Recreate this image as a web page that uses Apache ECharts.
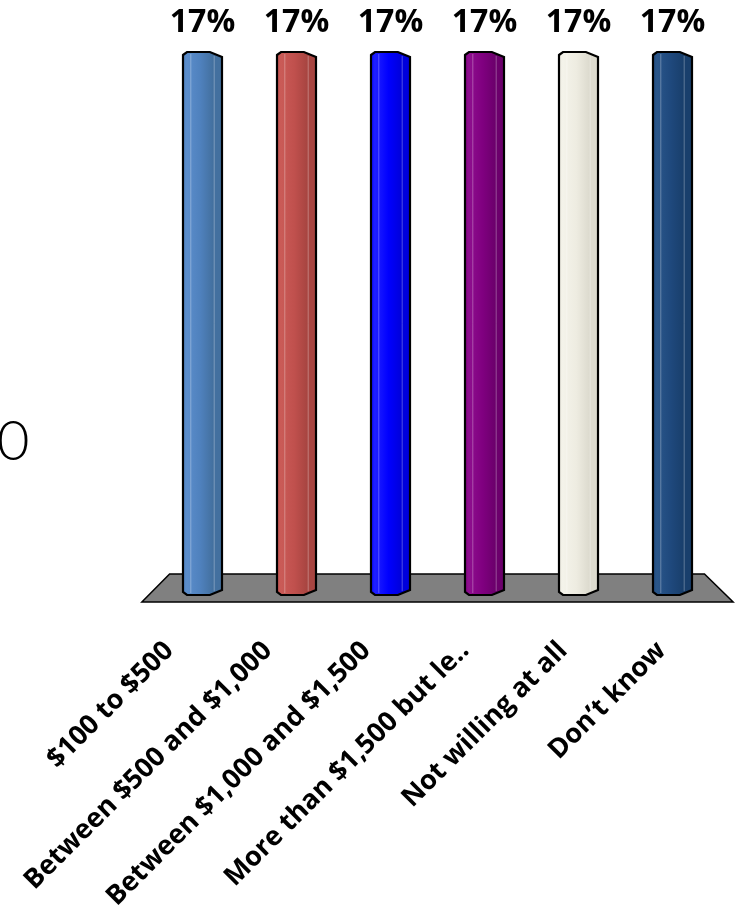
<!DOCTYPE html>
<html>
<head>
<meta charset="utf-8">
<script src="https://cdn.jsdelivr.net/npm/echarts@6/dist/echarts.min.js"></script>
<style>
  html, body { margin: 0; padding: 0; background: #fff; }
  #chart { width: 741px; height: 913px; }
</style>
</head>
<body>
<div id="chart"></div>
<script>
// Willingness-to-pay answer categories and their shares (%)
const categories = [
  '$100 to $500',
  'Between $500 and $1,000',
  'Between $1,000 and $1,500',
  'More than $1,500 but le..',
  'Not willing at all',
  'Don\u2019t know'
];
const shares = [17, 17, 17, 17, 17, 17];
const valueAxisLabel = '0';

// Per-bar face shading: [left highlight, base colour, right shade]
const barShades = [
  ['#5b8dcb', '#4f81bd', '#43709f'],
  ['#ca5b57', '#c0504d', '#a84541'],
  ['#2020ff', '#0000ff', '#0000dc'],
  ['#8e0e8e', '#800080', '#6c006c'],
  ['#f4f3ea', '#eeece1', '#dddbcf'],
  ['#2a568a', '#1f497d', '#193f6c']
];

const chart = echarts.init(document.getElementById('chart'), null, { renderer: 'canvas' });

// Cylinder-like bar with bevelled top and bottom, plus its value label
function renderBar(params, api) {
  const idx = api.value(0);
  const val = api.value(1);
  const top = api.coord([idx, val]);
  const base = api.coord([idx, 0]);
  const band = api.size([1, 0])[0];
  const w = band * 0.415;
  const L = top[0] - w / 2, R = top[0] + w / 2;
  const t = top[1], b = base[1];
  const k = L + w * 0.69;
  const sh = barShades[params.dataIndex % barShades.length];
  const points = [
    [L, t + 3], [L + 4, t], [k, t], [R, t + 5],
    [R, b - 5], [k, b], [L + 4, b], [L, b - 3]
  ];
  const fill = new echarts.graphic.LinearGradient(0, 0, 1, 0, [
    { offset: 0, color: sh[1] },
    { offset: 0.12, color: sh[0] },
    { offset: 0.45, color: sh[1] },
    { offset: 0.75, color: sh[2] },
    { offset: 1, color: sh[2] }
  ]);
  return {
    type: 'group',
    children: [
      { type: 'polygon', shape: { points: points }, style: { fill: fill, stroke: '#000', lineWidth: 2.2 } },
      { type: 'line', shape: { x1: L + w * 0.2, y1: t + 2, x2: L + w * 0.2, y2: b - 2 },
        style: { stroke: 'rgba(255,255,255,0.3)', lineWidth: 1 } },
      { type: 'line', shape: { x1: L + w * 0.8, y1: t + 4, x2: L + w * 0.8, y2: b - 4 },
        style: { stroke: 'rgba(255,255,255,0.3)', lineWidth: 1 } },
      { type: 'text', style: {
          text: val + '%', x: top[0], y: t - 29,
          align: 'center', verticalAlign: 'middle',
          font: 'bold 32px "Open Sans", sans-serif', fill: '#000'
      } }
    ]
  };
}

// Grey perspective floor under the bars
function renderFloor(params, api) {
  const first = api.coord([0, 0]);
  const last = api.coord([categories.length - 1, 0]);
  const band = api.size([1, 0])[0];
  const yTop = first[1] - 21, yBot = first[1] + 7;
  return {
    type: 'polygon',
    shape: { points: [
      [first[0] - band * 0.35, yTop], [last[0] + band * 0.34, yTop],
      [last[0] + band * 0.645, yBot], [first[0] - band * 0.645, yBot]
    ] },
    style: { fill: '#808080', stroke: '#000', lineWidth: 1.5 }
  };
}

chart.setOption({
  animation: false,
  backgroundColor: '#fff',
  grid: [
    { left: 155.5, width: 564, top: 52, height: 543 },
    { left: 120, width: 591, top: 0, height: 641 }
  ],
  xAxis: [
    { type: 'category', gridIndex: 0, data: categories, show: false },
    {
      type: 'category', gridIndex: 1, data: categories,
      axisLine: { show: false }, axisTick: { show: false },
      axisLabel: {
        interval: 0, rotate: 45, margin: 10,
        fontFamily: '"Open Sans", sans-serif', fontWeight: 'bold', fontSize: 27, color: '#000'
      }
    }
  ],
  yAxis: [
    { type: 'value', gridIndex: 0, min: 0, max: 17, show: false },
    { type: 'value', gridIndex: 1, show: false }
  ],
  graphic: [
    { type: 'text', left: -3, top: 414, style: {
        text: valueAxisLabel, font: '300 56px Lato, "Open Sans", sans-serif', fill: '#000'
    } }
  ],
  series: [
    { type: 'custom', xAxisIndex: 0, yAxisIndex: 0, z: 1, renderItem: renderFloor, data: [[0, 0]], silent: true },
    { type: 'custom', xAxisIndex: 0, yAxisIndex: 0, z: 3, renderItem: renderBar,
      data: shares.map((v, i) => [i, v]) }
  ]
});
</script>
</body>
</html>
